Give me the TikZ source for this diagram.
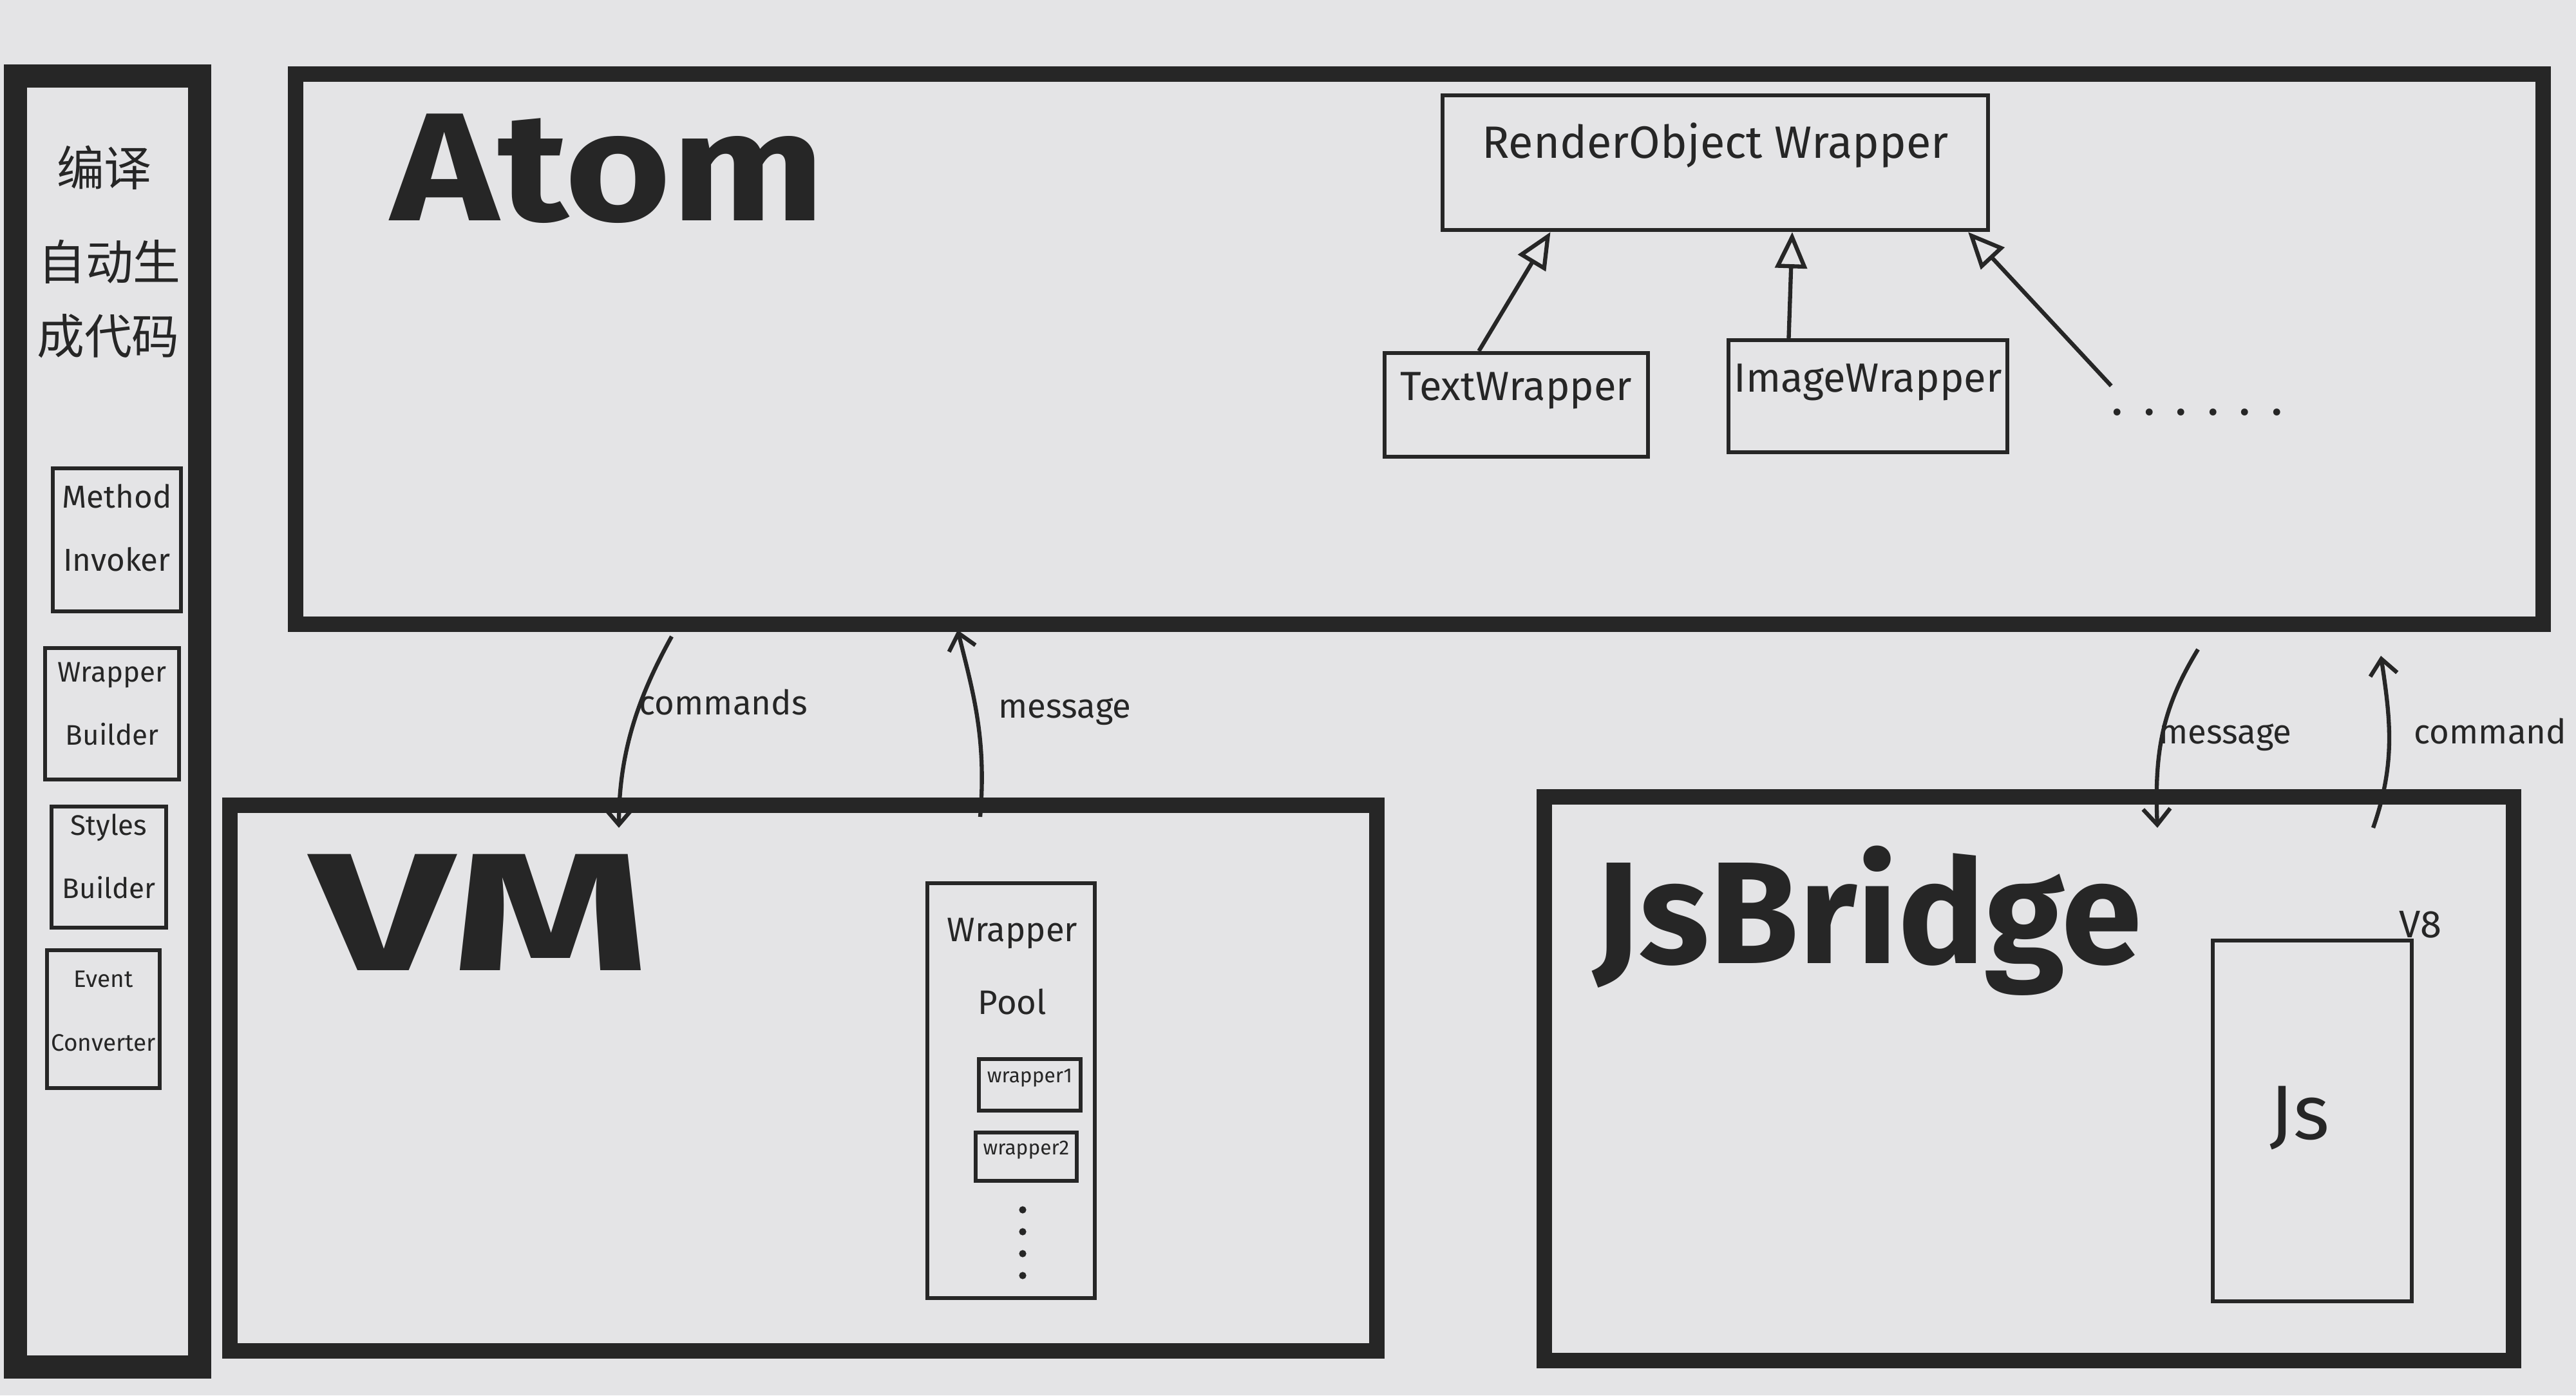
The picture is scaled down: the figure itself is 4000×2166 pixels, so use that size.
\documentclass[tikz,border=0pt]{standalone}
\usepackage{fontspec}
\setmainfont{Fira Sans}
\newfontfamily\cjkfont{Noto Sans CJK SC}
\usetikzlibrary{arrows.meta,fit,calc}
\definecolor{paper}{RGB}{228,228,230}
\definecolor{ink}{RGB}{38,38,38}
\newcommand{\hsz}[1]{\fontsize{#1}{#1}\selectfont}
\newcommand{\hszl}[1]{\fontsize{#1}{28}\selectfont}

\begin{document}
\begin{tikzpicture}[x=0.01cm,y=-0.01cm,
  panel/.style={draw=ink, line width=7pt, inner sep=0pt},
  thinbox/.style={draw=ink, line width=1.8pt, inner sep=0pt, align=center, text=ink},
  title/.style={font=\bfseries\hsz{68}, text=ink, inner sep=0pt},
  lbl/.style={font=\hsz{15}, text=ink, inner sep=0pt},
  cn/.style={font=\cjkfont\hsz{21}, text=ink, inner sep=0pt},
  inherit/.style={draw=ink, line width=1.8pt, -{Triangle[open,length=16pt,width=14pt]}},
  flow/.style={draw=ink, line width=1.8pt, -{Straight Barb[length=7pt,width=12pt]}}]
\fill[paper] (0,0) rectangle (4000,2166);
\useasboundingbox (0,0) rectangle (4000,2166);

\node[panel, line width=10pt, fit={(24,118) (310,2122)}] (side) {};
\node[cn] (cn1) at (162,260) {编译};
\node[cn] (cn2) at (170,406) {自动生};
\node[cn] (cn3) at (168,522) {成代码};
\node[thinbox, fit={(82,727) (281,949)}, font=\hszl{14}] (invoker) {Method\\Invoker};
\node[thinbox, fit={(70,1006) (278,1210)}, font=\hszl{12.5}] (wbuilder) {Wrapper\\Builder};
\node[thinbox, fit={(80,1252) (258,1440)}, font=\hszl{12.5}] (sbuilder) {Styles\\Builder};
\node[thinbox, fit={(73,1475) (248,1689)}, font=\hszl{10.5}] (converter) {Event\\Converter};

\node[panel, fit={(459,115) (3949,969)}] (atom) {};
\node[title] (atomtitle) at (944,262) {\scalebox{1.18}[1]{Atom}};
\node[thinbox, fit={(2240,148) (3087,357)}, font=\hsz{20}] (render) {RenderObject Wrapper};
\node[thinbox, fit={(2150,548) (2559,709)}, font=\hsz{18}] (textw) {TextWrapper};
\node[thinbox, fit={(2684,528) (3117,702)}, font=\hsz{18}] (imagew) {ImageWrapper};
\node[lbl, font=\hsz{22}\addfontfeature{LetterSpace=40}] (more) at (3412,640) {......};
\draw[inherit] ($(textw.north west)!0.36!(textw.north east)$) -- ($(render.south west)!0.2!(render.south east)$);
\draw[inherit] ($(imagew.north west)!0.22!(imagew.north east)$) -- ($(render.south west)!0.64!(render.south east)$);
\draw[inherit] ($(more.north west)+(0,-35)$) -- ($(render.south west)!0.96!(render.south east)$);

\node[panel, fit={(357,1250) (2138,2097)}] (vm) {};
\node[title, font=\bfseries\hsz{74}] (vmtitle) at (745,1416) {\scalebox{1.5}[1]{VM}};
\node[thinbox, fit={(1440,1371) (1700,2015)}] (pool) {};
\node[lbl, align=center, font=\fontsize{15}{32}\selectfont] (pooltxt) at (1572,1500) {Wrapper\\Pool};
\node[thinbox, fit={(1520,1644) (1678,1724)}, font=\hsz{9}] (wrap1) {wrapper1};
\node[thinbox, fit={(1515,1758) (1672,1833)}, font=\hsz{9}] (wrap2) {wrapper2};
\foreach \y in {1878,1912,1946,1980}
  \fill[ink] (1588,\y) circle[radius=1.6pt];

\node[panel, fit={(2398,1237) (3903,2112)}] (bridge) {};
\node[title, font=\bfseries\hsz{64}] (bridgetitle) at (2900,1429) {JsBridge};
\node[thinbox, fit={(3436,1460) (3745,2020)}] (v8) {};
\node[lbl, anchor=south, font=\hsz{17}] (v8lbl) at ($(v8.north east)+(10,0)$) {V8};
\node[lbl, font=\hsz{34}] (js) at (3571,1735) {Js};

\coordinate (cmdtop) at (1043,988);
\coordinate (cmdend) at (961,1285);
\coordinate (msgbot) at (1522,1268);
\coordinate (msgend) at (1487,978);
\coordinate (jsmsgtop) at (3413,1008);
\coordinate (jsmsgend) at (3350,1285);
\coordinate (jscmdbot) at (3685,1285);
\coordinate (jscmdend) at (3697,1018);
\draw[flow] (cmdtop) .. controls +(-50,90) and +(0,-120) .. (cmdend);
\node[lbl, anchor=west] (cmdlbl) at (992,1090) {commands};
\draw[flow] (msgbot) .. controls +(10,-120) and +(25,100) .. (msgend);
\node[lbl, anchor=west] (msglbl) at (1550,1105) {message};
\draw[flow] (jsmsgtop) .. controls +(-55,90) and +(-5,-120) .. (jsmsgend);
\node[lbl, anchor=west] (jsmsglbl) at (3352,1145) {message};
\draw[flow] (jscmdbot) .. controls +(35,-100) and +(15,100) .. (jscmdend);
\node[lbl, anchor=west] (jscmdlbl) at (3748,1135) {command};
\end{tikzpicture}
\end{document}
